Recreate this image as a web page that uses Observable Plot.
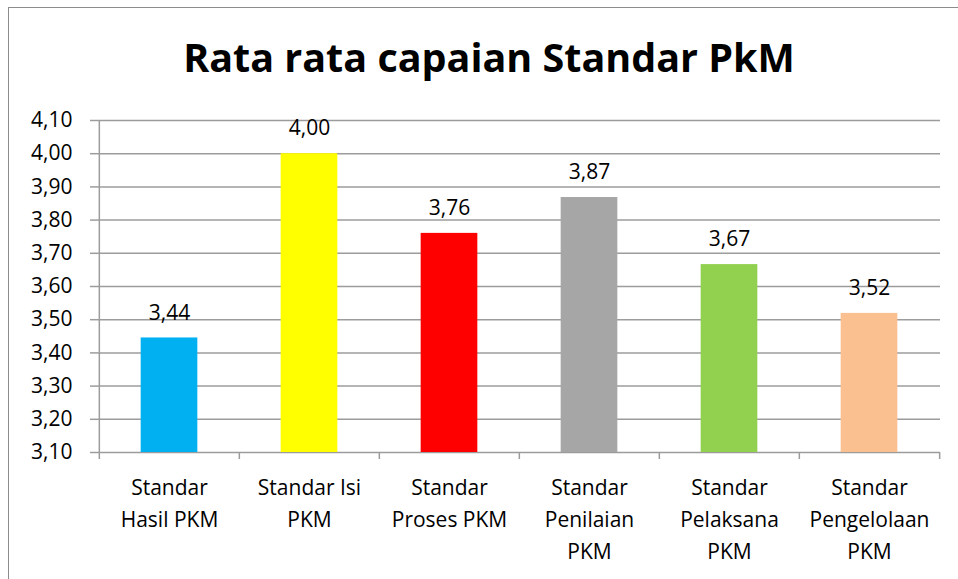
<!DOCTYPE html>
<html><head><meta charset="utf-8">
<script src="https://cdn.jsdelivr.net/npm/d3@7"></script>
<script src="https://cdn.jsdelivr.net/npm/@observablehq/plot@0.6"></script>
<style>
body{margin:0;background:#fff;}
#wrap{position:relative;width:958px;height:579px;overflow:hidden;font-family:"Open Sans",sans-serif;background:#fff;}
#border{position:absolute;left:8px;top:7px;width:1200px;height:1200px;border-left:1.5px solid #8c8c8c;border-top:1.5px solid #8c8c8c;}
#title{position:absolute;left:8px;top:38px;width:962px;text-align:center;font-size:39.5px;line-height:39px;font-weight:bold;color:#000;white-space:nowrap;}
#chart{position:absolute;left:0;top:100px;}
</style></head>
<body>
<div id="wrap"><div id="border"></div><div id="title">Rata rata capaian Standar PkM</div><div id="chart"></div></div>
<script>
const categories = ["Standar Hasil PKM","Standar Isi PKM","Standar Proses PKM","Standar Penilaian PKM","Standar Pelaksana PKM","Standar Pengelolaan PKM"];
const tickLabels = ["Standar\nHasil PKM","Standar Isi\nPKM","Standar\nProses PKM","Standar\nPenilaian\nPKM","Standar\nPelaksana\nPKM","Standar\nPengelolaan\nPKM"];
const values = [3.445, 4.00, 3.76, 3.868, 3.666, 3.519];
const valueLabels = ["3,44","4,00","3,76","3,87","3,67","3,52"];
const yTicks = [3.10,3.20,3.30,3.40,3.50,3.60,3.70,3.80,3.90,4.00,4.10];
const colors = ["#00B0F0","#FFFF00","#FF0000","#A6A6A6","#92D050","#FAC090"];

const data = categories.map((c,i)=>({cat:c, value:values[i], label:valueLabels[i], tick:tickLabels[i]}));
const W = 958, H = 479, mL = 98, mR = 18, mT = 20, mB = 127;
const bw = (W - mL - mR) / categories.length;
const barW = 57;
const grid = "#9c9c9c";
const fmt = d => d.toFixed(2).replace(".", ",");

const plot = Plot.plot({
  width: W, height: H,
  marginLeft: mL, marginRight: mR, marginTop: mT, marginBottom: mB,
  style: {fontFamily: "'Open Sans', sans-serif", fontSize: "21px", color: "#000", background: "transparent"},
  x: {type: "band", domain: categories, padding: 0, axis: null},
  y: {domain: [3.1, 4.1], axis: null},
  color: {domain: categories, range: colors},
  marks: [
    Plot.ruleY(yTicks, {stroke: grid, strokeWidth: 1.5}),
    Plot.axisY({ticks: yTicks, tickFormat: fmt, tickSize: 8, tickPadding: 18, fontSize: 21, stroke: grid, strokeWidth: 1.5, fill: "#000", label: null}),
    Plot.axisX({tickSize: 0, tickPadding: 20, fontSize: 21, lineHeight: 1.52, tickFormat: d => tickLabels[categories.indexOf(d)], fill: "#000", label: null}),
    Plot.barY(data, {x: "cat", y1: 3.1, y2: "value", fill: "cat", insetLeft: (bw - barW)/2, insetRight: (bw - barW)/2}),
    Plot.ruleX(categories.slice(0, 1), {x: d => d, dx: -bw/2, insetBottom: -7, stroke: grid, strokeWidth: 1.5}),
    Plot.ruleX(categories.slice(1), {x: d => d, dx: -bw/2, y1: 3.1, y2: 3.1, insetBottom: -7, stroke: grid, strokeWidth: 1.5}),
    Plot.ruleX(categories.slice(-1), {x: d => d, dx: bw/2, y1: 3.1, y2: 3.1, insetBottom: -7, stroke: grid, strokeWidth: 1.5}),
    Plot.text(data, {x: "cat", y: "value", text: "label", dy: -25, fontSize: 21, fill: "#000"})
  ]
});
document.getElementById("chart").appendChild(plot);
</script>
</body></html>
